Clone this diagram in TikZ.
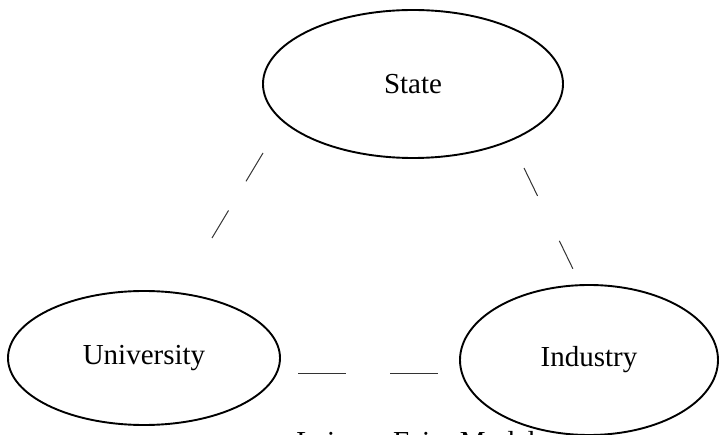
\documentclass[tikz,border=0pt]{standalone}
\usepackage{fontspec}
\setmainfont{Liberation Serif}
\usetikzlibrary{shapes.geometric}

\begin{document}
\begin{tikzpicture}
[x=1pt,y=-1pt,every node/.style={ellipse,draw,line width=1.9pt,inner sep=0pt,font=\fontsize{29}{34}\selectfont}]
\useasboundingbox (0,0) rectangle (720,435);
\node[minimum width=300pt,minimum height=148pt] (state) at (413,84) {State};
\node[minimum width=272pt,minimum height=134pt] (univ) at (144,358) {University};
\node[minimum width=258pt,minimum height=150pt] (ind) at (589,360) {Industry};
\node[draw=none,ellipse=false,anchor=base west] (cap) at (246,451) {Laissez-Faire Model};
% dashed links between the spheres
\coordinate (su1) at (263,153);
\coordinate (su2) at (212,238);
\coordinate (si1) at (524,168);
\coordinate (si2) at (573,269);
\coordinate (ui1) at (298,374);
\coordinate (ui2) at (438,374);
\foreach \from/\to/\on/\off in {su1/su2/33/34,si1/si2/31/50,ui1/ui2/48/44}
\draw[black!80,line width=1pt,dash pattern=on \on pt off \off pt] (\from) -- (\to);
\end{tikzpicture}
\end{document}
